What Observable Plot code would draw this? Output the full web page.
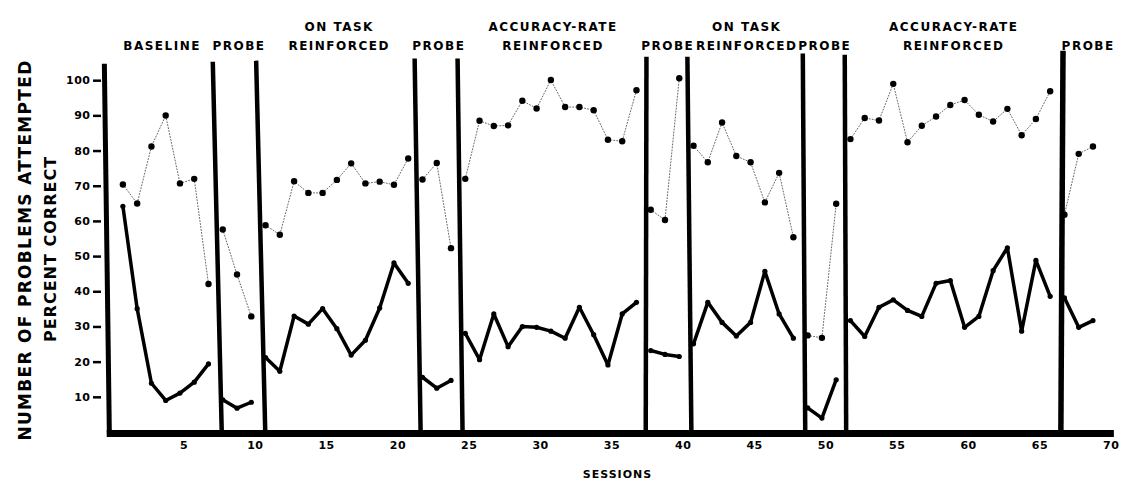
<!DOCTYPE html>
<html><head><meta charset="utf-8">
<script src="https://cdn.jsdelivr.net/npm/d3@7"></script>
<script src="https://cdn.jsdelivr.net/npm/@observablehq/plot@0.6"></script>
<style>body{margin:0;background:#fff} svg{display:block}</style>
</head><body><div id="chart"></div>
<script>
// Phases (in order) and the number of sessions in each
const phaseLine1 = ["", "", "ON TASK", "", "ACCURACY-RATE", "", "ON TASK", "", "ACCURACY-RATE", ""];
const phaseLine2 = ["BASELINE", "PROBE", "REINFORCED", "PROBE", "REINFORCED", "PROBE", "REINFORCED", "PROBE", "REINFORCED", "PROBE"];
const phaseLengths = [7, 3, 11, 3, 13, 3, 8, 3, 15, 3];

// Percent correct (dotted series), sessions 1..69
const percentCorrect = [
  70.5, 65.1, 81.3, 90.1, 70.8, 72.1, 42.2,
  57.7, 44.9, 33.0,
  58.9, 56.2, 71.4, 68.1, 68.1, 71.8, 76.5, 70.8, 71.3, 70.4, 77.9,
  71.9, 76.6, 52.4,
  72.1, 88.6, 87.1, 87.3, 94.3, 92.1, 100.2, 92.5, 92.5, 91.6, 83.2, 82.8, 97.3,
  63.3, 60.4, 100.7,
  81.5, 76.8, 88.1, 78.6, 76.8, 65.4, 73.8, 55.5,
  27.6, 26.9, 65.0,
  83.4, 89.4, 88.7, 99.1, 82.5, 87.2, 89.8, 93.1, 94.5, 90.3, 88.4, 92.0, 84.5, 89.1, 97.0,
  61.9, 79.2, 81.3
];

// Number of problems attempted (solid series), sessions 1..69
const problemsAttempted = [
  64.3, 35.2, 14.0, 9.1, 11.2, 14.3, 19.5,
  9.3, 6.9, 8.6,
  21.3, 17.4, 33.1, 30.8, 35.2, 29.5, 22.0, 26.2, 35.4, 48.2, 42.4,
  15.7, 12.6, 14.8,
  28.2, 20.7, 33.7, 24.4, 30.1, 29.9, 28.8, 26.8, 35.6, 27.8, 19.2, 33.7, 37.0,
  23.3, 22.2, 21.6,
  25.2, 37.0, 31.3, 27.4, 31.3, 45.8, 33.7, 26.8,
  7.0, 4.1, 15.0,
  31.8, 27.3, 35.6, 37.7, 34.7, 33.0, 42.4, 43.2, 29.9, 33.0, 46.0, 52.5, 28.8, 48.9, 38.7,
  38.3, 29.9, 31.8
];

// Hand-drawn phase-change lines (session position at top and bottom, value at top); first one is the y axis
const boundaryTop = [-0.3, 7.30, 10.34, 21.45, 24.46, 37.70, 40.57, 48.66, 51.60, 66.90];
const boundaryBottom = [0.05, 7.93, 10.98, 21.87, 24.81, 37.65, 40.85, 48.83, 51.70, 66.75];
const boundaryTopValue = [104.8, 105.4, 105.7, 106.3, 106.3, 106.8, 106.8, 107.7, 107.4, 108.5];
const axisEnd = 70.5;

const xTicks = [5, 10, 15, 20, 25, 30, 35, 40, 45, 50, 55, 60, 65, 70];
const yTicks = [10, 20, 30, 40, 50, 60, 70, 80, 90, 100];

const yTitle1 = "NUMBER OF PROBLEMS ATTEMPTED";
const yTitle2 = "PERCENT CORRECT";
const xTitle = "SESSIONS";

// ---- build tables ----
const rows = [];
let s = 1;
phaseLengths.forEach((n, p) => {
  for (let k = 0; k < n; k++, s++) {
    rows.push({session: s, phase: p, pct: percentCorrect[s - 1], att: problemsAttempted[s - 1]});
  }
});
const boundaries = boundaryTop.map((t, i) => ({top: t, bottom: boundaryBottom[i], topValue: boundaryTopValue[i], w: i === 0 ? 5 : (i === 9 ? 5.5 : 4.5)}));
const mids = boundaryTop.map((t, i) => (t + boundaryBottom[i]) / 2);
const labels = phaseLine2.map((l2, i) => {
  const a = mids[i], b = i + 1 < mids.length ? mids[i + 1] : axisEnd;
  return {x: (a + b) / 2, line1: phaseLine1[i], line2: l2};
});

const font = "'DejaVu Sans', Verdana, sans-serif";
const chart = Plot.plot({
  width: 1131,
  height: 484,
  marginLeft: 101,
  marginRight: 10,
  marginTop: 45,
  marginBottom: 52,
  x: {domain: [-0.5, 71]},
  y: {domain: [0, 110]},
  style: {fontFamily: font, fontWeight: "bold", background: "white", color: "black"},
  marks: [
    Plot.axisX({ticks: xTicks, tickSize: 0, tickPadding: 9, fontSize: 11, fontWeight: "bold", dx: 4, label: null}),
    Plot.axisY({ticks: yTicks, tickSize: 8, tickPadding: 3, strokeWidth: 2.5, fontSize: 11, fontWeight: "bold", label: null}),
    Plot.ruleY([{y: 0, x1: boundaryBottom[0] - 0.15, x2: axisEnd}], {y: "y", x1: "x1", x2: "x2", strokeWidth: 7, dy: 1}),
    Plot.link(boundaries, {x1: "top", x2: "bottom", y1: "topValue", y2: 0, strokeWidth: "w", stroke: "black"}),
    Plot.line(rows, {x: "session", y: "pct", z: "phase", stroke: "#666", strokeWidth: 1, strokeDasharray: "1,2"}),
    Plot.dot(rows, {x: "session", y: "pct", r: 3.2, fill: "black"}),
    Plot.line(rows, {x: "session", y: "att", z: "phase", stroke: "black", strokeWidth: 3.5, strokeLinejoin: "round"}),
    Plot.dot(rows, {x: "session", y: "att", r: 2.6, fill: "black"}),
    Plot.text(labels, {x: "x", text: "line1", frameAnchor: "top", dy: -23, fontSize: 12, fontWeight: "bold", fill: "black"}),
    Plot.text(labels, {x: "x", text: "line2", frameAnchor: "top", dy: -4, fontSize: 12, fontWeight: "bold", fill: "black"}),
    Plot.text([yTitle1], {frameAnchor: "left", textAnchor: "middle", rotate: -90, dx: -76, dy: 11, fontSize: 17, fontWeight: "bold", fill: "black"}),
    Plot.text([yTitle2], {frameAnchor: "left", textAnchor: "middle", rotate: -90, dx: -51, dy: 10, fontSize: 16, fontWeight: "bold", fill: "black"}),
    Plot.text([xTitle], {frameAnchor: "bottom", dx: 6, dy: 45, fontSize: 11, fontWeight: "bold", fill: "black"})
  ]
});
// letter spacing of the wide, heavy lettering
const phaseTexts = new Set([...phaseLine1, ...phaseLine2].filter(d => d));
d3.select(chart).selectAll("text").each(function () {
  const t = this.textContent;
  let ls = null;
  if (phaseTexts.has(t)) ls = 1.5;
  else if (t === yTitle1) ls = 1.3;
  else if (t === yTitle2) ls = 1;
  else if (t === xTitle) ls = 1;
  else if (/^\d+$/.test(t)) ls = 0.5;
  if (ls != null) this.setAttribute("letter-spacing", ls);
});
document.getElementById("chart").appendChild(chart);
</script>
</body></html>
